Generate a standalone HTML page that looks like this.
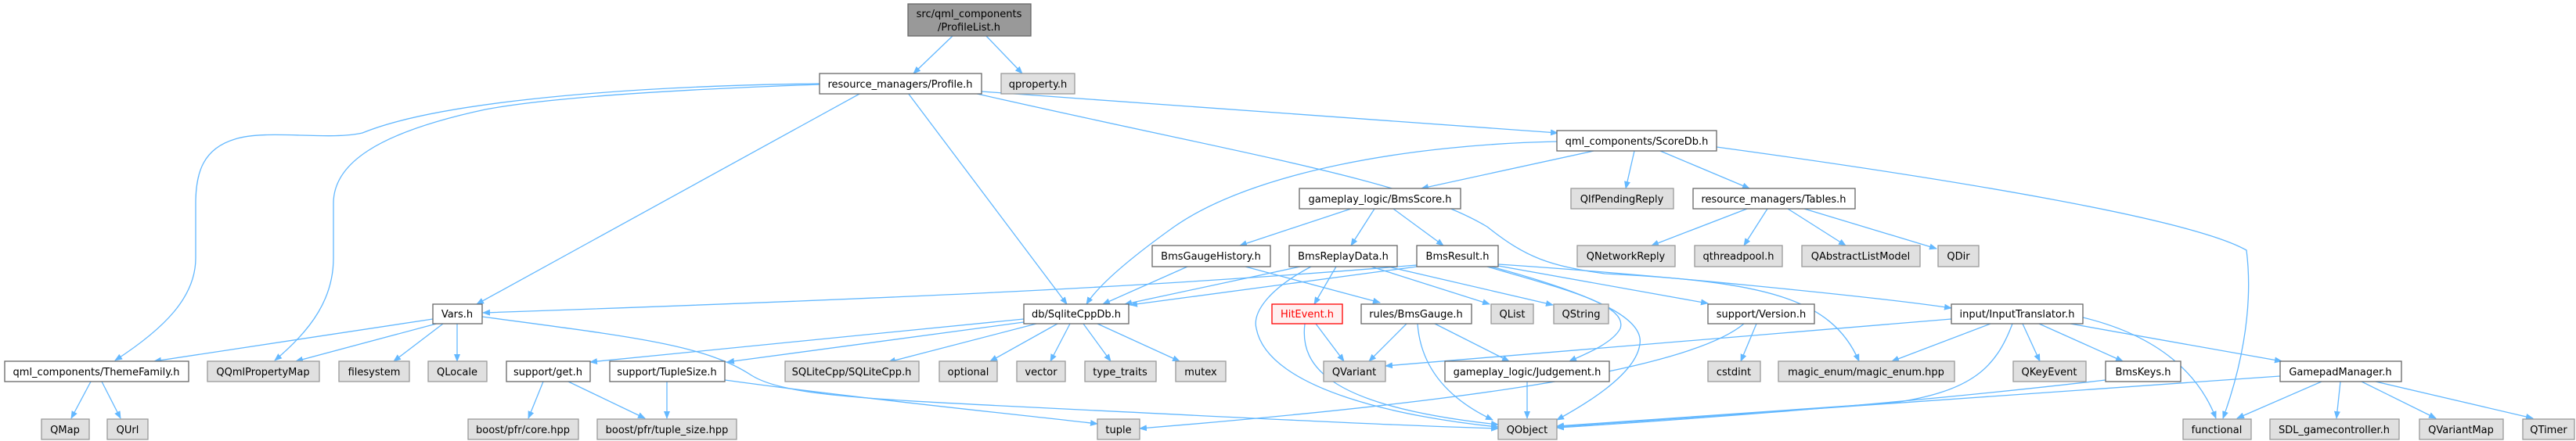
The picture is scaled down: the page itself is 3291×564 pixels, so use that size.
<!DOCTYPE html>
<html><head><meta charset="utf-8"><style>
html,body{margin:0;padding:0;background:#fff;}
svg{display:block;}
text{font-family:"DejaVu Sans","Liberation Sans",sans-serif;font-size:13px;fill:#000;text-anchor:middle;}
.w{fill:#fff;stroke:#666;stroke-width:1.3;}
.g{fill:#e0e0e0;stroke:#999;stroke-width:1.3;}
.e{fill:none;stroke:#63b8ff;stroke-width:1.3;}
</style></head><body>
<svg width="3291" height="564" viewBox="0 0 3291 564" xmlns="http://www.w3.org/2000/svg">
<defs><marker id="a" markerWidth="10" markerHeight="8" refX="9" refY="4" orient="auto" markerUnits="userSpaceOnUse"><path d="M0,0 L10,4 L0,8 z" fill="#63b8ff"/></marker></defs>
<g class="e" marker-end="url(#a)">
<path d="M1217,46 L1167,94"/>
<path d="M1260,46 L1306,94"/>
<path d="M1047,107 C800,110 560,130 463,170 C420,180 340,165 300,178 C260,190 250,220 250,260 L250,330 C250,380 210,420 147,461"/>
<path d="M1047,108 C850,115 700,125 620,140 C480,170 426,210 426,260 L426,330 C426,380 400,420 351,461"/>
<path d="M1100,119 L609,389"/>
<path d="M1160,119 L1363,389"/>
<path d="M1254,117 L1990,170"/>
<path d="M1244,119 C1600,200 1800,230 1900,290 C1950,330 1980,340 2050,350 C2250,360 2340,380 2375,462"/>
<path d="M1989,181 C1800,185 1600,220 1500,290 C1430,340 1400,370 1388,389"/>
<path d="M2036,193 L1816,241"/>
<path d="M2088,193 L2077,241"/>
<path d="M2121,193 L2235,241"/>
<path d="M2193,188 C2500,230 2800,280 2870,320 C2880,400 2860,480 2840,535"/>
<path d="M1726,267 L1584,314"/>
<path d="M1756,267 L1726,314"/>
<path d="M1780,267 L1844,314"/>
<path d="M2232,267 L2110,314"/>
<path d="M2258,267 L2228,314"/>
<path d="M2284,267 L2358,314"/>
<path d="M2305,267 L2474,318"/>
<path d="M1517,341 L1409,389"/>
<path d="M1591,341 L1763,387"/>
<path d="M1661,341 L1437,389"/>
<path d="M1707,341 L1679,389"/>
<path d="M1752,341 L1903,389"/>
<path d="M1675,341 C1620,370 1600,400 1605,420 C1620,500 1800,535 1914,546"/>
<path d="M1773,341 L1984,390"/>
<path d="M1810,339 C1500,365 1200,380 617,400"/>
<path d="M1810,341 L1444,390"/>
<path d="M1914,340 L2182,388"/>
<path d="M1914,338 C2100,350 2400,380 2493,394"/>
<path d="M1900,341 C2000,370 2080,390 2070,420 C2060,440 2020,455 2005,462"/>
<path d="M1905,341 C2050,380 2100,410 2095,440 C2090,480 2020,520 1989,537"/>
<path d="M1681,414 L1717,462"/>
<path d="M1667,414 C1660,470 1700,520 1914,543"/>
<path d="M1797,414 L1749,462"/>
<path d="M1833,414 L1928,462"/>
<path d="M1811,414 C1815,470 1850,510 1907,537"/>
<path d="M1951,488 L1951,535"/>
<path d="M1308,408 L754,463"/>
<path d="M1308,412 L929,463"/>
<path d="M1324,414 L1135,463"/>
<path d="M1351,414 L1265,462"/>
<path d="M1367,414 L1342,462"/>
<path d="M1384,414 L1419,462"/>
<path d="M1402,414 L1507,462"/>
<path d="M553,408 L197,462"/>
<path d="M565,412 L378,462"/>
<path d="M566,414 L503,462"/>
<path d="M584,414 L584,462"/>
<path d="M616,405 C800,430 900,440 960,480 C1000,505 1100,510 1300,520 C1600,535 1800,545 1914,548"/>
<path d="M694,488 L675,535"/>
<path d="M726,488 L824,535"/>
<path d="M852,488 L852,535"/>
<path d="M926,486 C1100,510 1300,530 1402,542"/>
<path d="M116,488 L91,535"/>
<path d="M130,488 L154,535"/>
<path d="M2228,414 C2150,480 1800,520 1456,548"/>
<path d="M2244,414 L2224,462"/>
<path d="M2493,408 L1770,468"/>
<path d="M2543,414 L2417,462"/>
<path d="M2571,414 C2550,470 2520,500 2420,515 C2200,530 2050,540 1989,545"/>
<path d="M2584,414 L2606,462"/>
<path d="M2605,414 L2712,462"/>
<path d="M2645,414 L2915,462"/>
<path d="M2661,406 C2760,430 2810,480 2831,535"/>
<path d="M2690,486 C2400,520 2100,540 1989,547"/>
<path d="M2913,481 L1989,546"/>
<path d="M2966,488 L2858,535"/>
<path d="M2990,488 L2985,535"/>
<path d="M3017,488 L3112,535"/>
<path d="M3035,488 L3236,535"/>
</g>
<!-- nodes -->
<rect x="1160" y="5" width="157" height="41" fill="#999" stroke="#666" stroke-width="1.3"/>
<text x="1238" y="22">src/qml_components</text><text x="1238" y="39">/ProfileList.h</text>

<rect class="w" x="1047" y="94" width="207" height="26"/><text x="1150" y="112">resource_managers/Profile.h</text>
<rect class="g" x="1279" y="94" width="94" height="26"/><text x="1326" y="112">qproperty.h</text>

<rect class="w" x="1989" y="167" width="204" height="26"/><text x="2091" y="185">qml_components/ScoreDb.h</text>

<rect class="w" x="1660" y="241" width="206" height="26"/><text x="1763" y="259">gameplay_logic/BmsScore.h</text>
<rect class="g" x="2007" y="241" width="131" height="26"/><text x="2072" y="259">QIfPendingReply</text>
<rect class="w" x="2163" y="241" width="207" height="26"/><text x="2266" y="259">resource_managers/Tables.h</text>

<rect class="w" x="1472" y="314" width="151" height="27"/><text x="1547" y="332">BmsGaugeHistory.h</text>
<rect class="w" x="1647" y="314" width="138" height="27"/><text x="1716" y="332">BmsReplayData.h</text>
<rect class="w" x="1810" y="314" width="104" height="27"/><text x="1862" y="332">BmsResult.h</text>
<rect class="g" x="2015" y="314" width="125" height="27"/><text x="2077" y="332">QNetworkReply</text>
<rect class="g" x="2165" y="314" width="112" height="27"/><text x="2221" y="332">qthreadpool.h</text>
<rect class="g" x="2302" y="314" width="151" height="27"/><text x="2377" y="332">QAbstractListModel</text>
<rect class="g" x="2476" y="314" width="52" height="27"/><text x="2502" y="332">QDir</text>

<rect class="w" x="553" y="389" width="63" height="25"/><text x="584" y="406">Vars.h</text>
<rect class="w" x="1308" y="389" width="134" height="25"/><text x="1375" y="406">db/SqliteCppDb.h</text>
<rect x="1625" y="389" width="90" height="25" fill="#fff0f0" stroke="#f00" stroke-width="1.3"/><text x="1670" y="406" style="fill:#f00">HitEvent.h</text>
<rect class="w" x="1739" y="389" width="141" height="25"/><text x="1809" y="406">rules/BmsGauge.h</text>
<rect class="g" x="1905" y="389" width="54" height="25"/><text x="1932" y="406">QList</text>
<rect class="g" x="1985" y="389" width="70" height="25"/><text x="2020" y="406">QString</text>
<rect class="w" x="2182" y="389" width="136" height="25"/><text x="2250" y="406">support/Version.h</text>
<rect class="w" x="2493" y="389" width="168" height="25"/><text x="2577" y="406">input/InputTranslator.h</text>

<rect class="w" x="6" y="462" width="235" height="26"/><text x="123" y="480">qml_components/ThemeFamily.h</text>
<rect class="g" x="265" y="462" width="143" height="26"/><text x="336" y="480">QQmlPropertyMap</text>
<rect class="g" x="433" y="462" width="90" height="26"/><text x="478" y="480">filesystem</text>
<rect class="g" x="547" y="462" width="75" height="26"/><text x="584" y="480">QLocale</text>
<rect class="w" x="647" y="462" width="107" height="26"/><text x="700" y="480">support/get.h</text>
<rect class="w" x="779" y="462" width="147" height="26"/><text x="852" y="480">support/TupleSize.h</text>
<rect class="g" x="1003" y="462" width="171" height="26"/><text x="1088" y="480">SQLiteCpp/SQLiteCpp.h</text>
<rect class="g" x="1200" y="462" width="74" height="26"/><text x="1237" y="480">optional</text>
<rect class="g" x="1299" y="462" width="62" height="26"/><text x="1330" y="480">vector</text>
<rect class="g" x="1386" y="462" width="91" height="26"/><text x="1431" y="480">type_traits</text>
<rect class="g" x="1502" y="462" width="64" height="26"/><text x="1534" y="480">mutex</text>
<rect class="g" x="1691" y="462" width="79" height="26"/><text x="1730" y="480">QVariant</text>
<rect class="w" x="1846" y="462" width="210" height="26"/><text x="1951" y="480">gameplay_logic/Judgement.h</text>
<rect class="g" x="2182" y="462" width="67" height="26"/><text x="2215" y="480">cstdint</text>
<rect class="g" x="2272" y="462" width="225" height="26"/><text x="2384" y="480">magic_enum/magic_enum.hpp</text>
<rect class="g" x="2572" y="462" width="93" height="26"/><text x="2618" y="480">QKeyEvent</text>
<rect class="w" x="2690" y="462" width="96" height="26"/><text x="2738" y="480">BmsKeys.h</text>
<rect class="w" x="2913" y="462" width="155" height="26"/><text x="2990" y="480">GamepadManager.h</text>

<rect class="g" x="53" y="536" width="61" height="26"/><text x="83" y="554">QMap</text>
<rect class="g" x="137" y="536" width="52" height="26"/><text x="163" y="554">QUrl</text>
<rect class="g" x="598" y="536" width="141" height="26"/><text x="668" y="554">boost/pfr/core.hpp</text>
<rect class="g" x="763" y="536" width="178" height="26"/><text x="852" y="554">boost/pfr/tuple_size.hpp</text>
<rect class="g" x="1402" y="536" width="54" height="26"/><text x="1429" y="554">tuple</text>
<rect class="g" x="1914" y="536" width="75" height="26"/><text x="1951" y="554">QObject</text>
<rect class="g" x="2789" y="536" width="87" height="26"/><text x="2832" y="554">functional</text>
<rect class="g" x="2900" y="536" width="165" height="26"/><text x="2982" y="554">SDL_gamecontroller.h</text>
<rect class="g" x="3091" y="536" width="107" height="26"/><text x="3144" y="554">QVariantMap</text>
<rect class="g" x="3223" y="536" width="66" height="26"/><text x="3256" y="554">QTimer</text>
</svg>
</body></html>
